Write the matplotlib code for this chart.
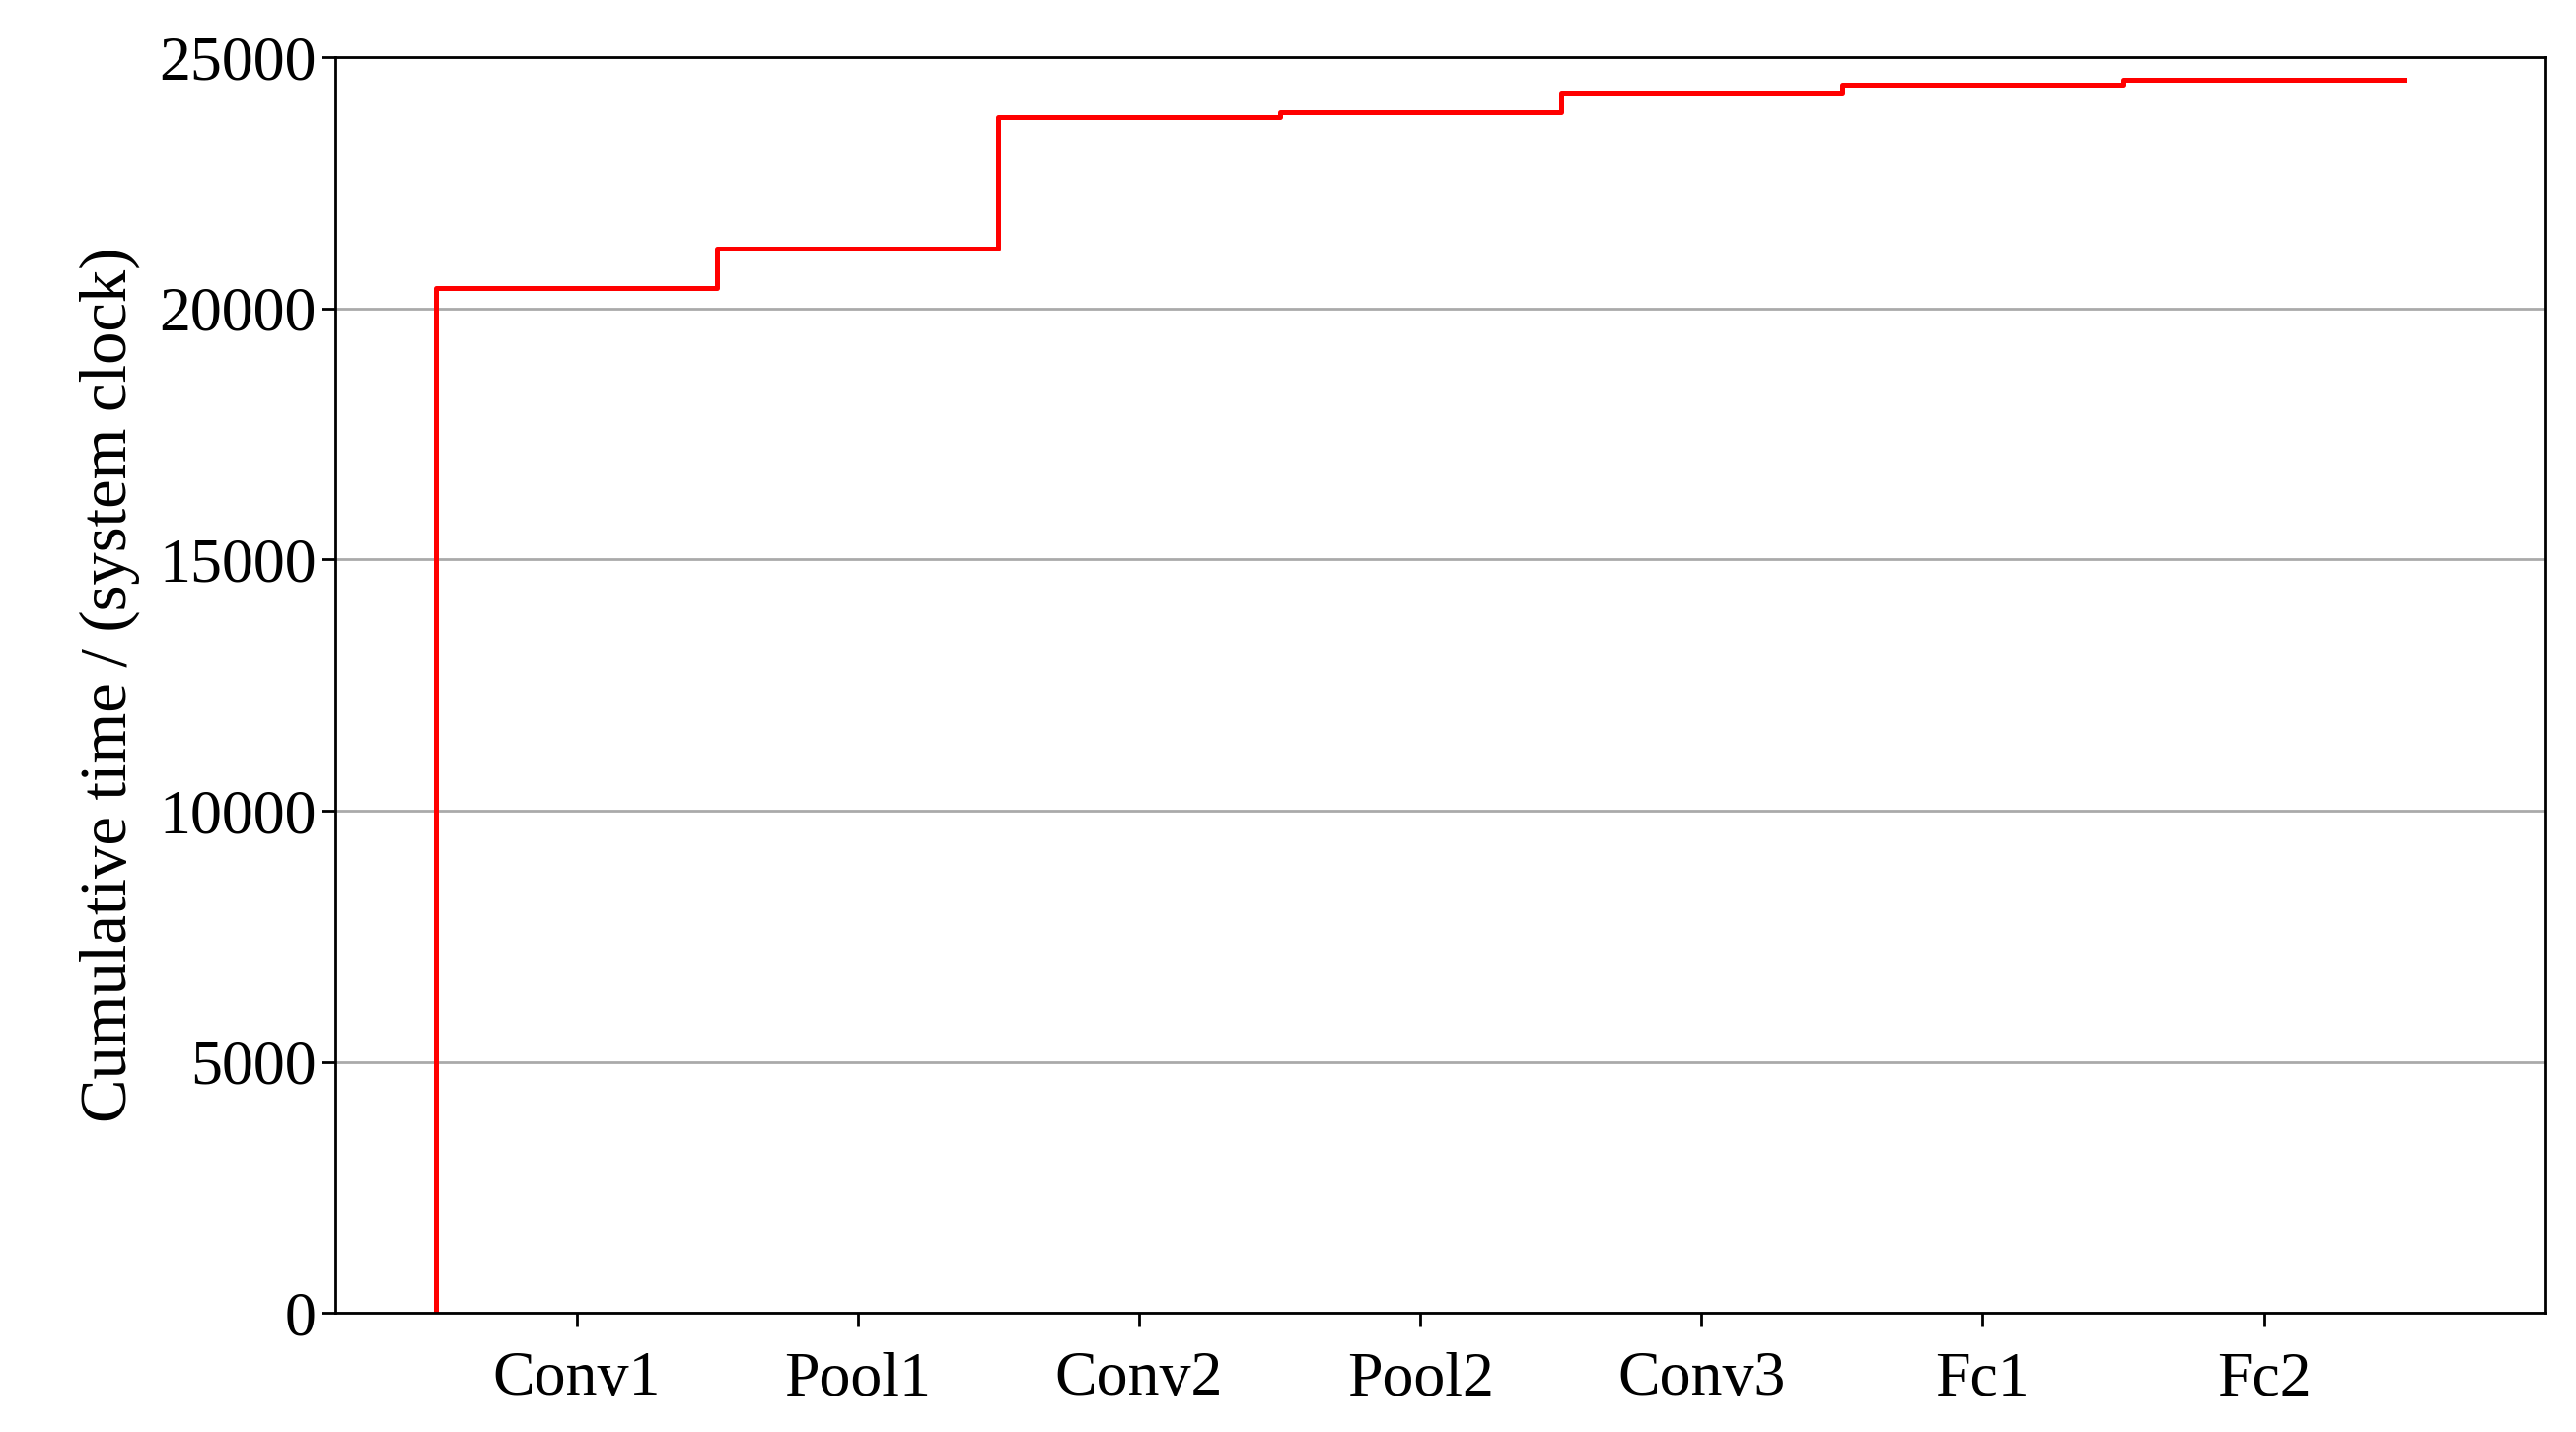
import numpy as np
import matplotlib.pyplot as plt

plt.rcParams['font.family'] = ['Liberation Serif', 'DejaVu Serif']

layers = ["Conv1", "Pool1", "Conv2", "Pool2", "Conv3", "Fc1", "Fc2"]
cumulative = [20400, 21200, 23800, 23900, 24300, 24450, 24550]

pos = np.arange(1, len(layers) + 1)
edges = np.concatenate([[pos[0] - 0.5], pos - 0.5, [pos[-1] + 0.5]])
vals = np.concatenate([[0], cumulative, [cumulative[-1]]])

fig = plt.figure(figsize=(26.12, 14.52), dpi=100)
ax = fig.add_axes([0.130, 0.083, 0.858, 0.877])
ax.step(edges, vals, where="post", color="red", lw=3.6)

ax.set_xlim(0.14, 8.0)
ax.set_ylim(0, 25000)
ax.set_xticks(pos)
ax.set_xticklabels(layers)
ax.set_yticks(np.arange(0, 25001, 5000))
ax.yaxis.grid(True, color="#aaaaaa", lw=2)
ax.set_axisbelow(True)
ax.tick_params(labelsize=46, width=2, length=10)
ax.tick_params(axis="x", pad=18)
for s in ax.spines.values():
    s.set_linewidth(2)
ax.set_ylabel("Cumulative time / (system clock)", fontsize=48, labelpad=14)

fig.savefig("out.png")
